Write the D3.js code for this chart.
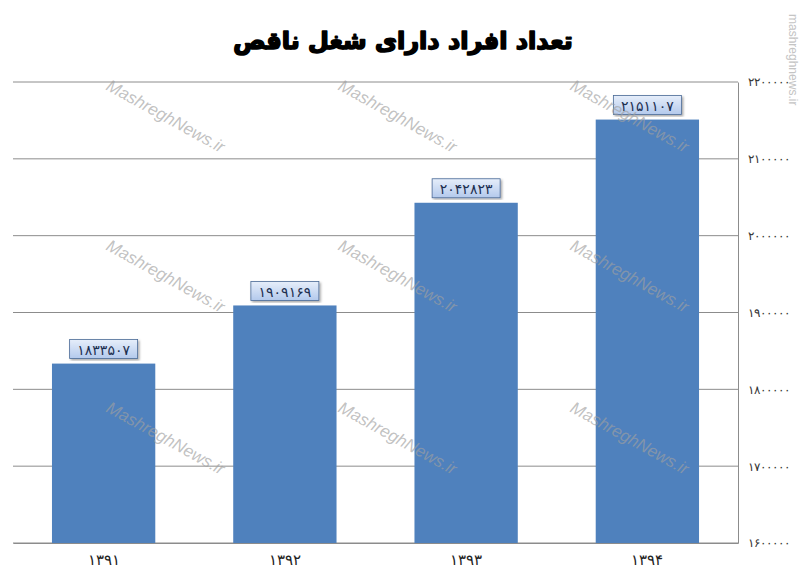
<!DOCTYPE html>
<html>
<head>
<meta charset="utf-8">
<script src="https://cdn.jsdelivr.net/npm/d3@7"></script>
<style>
  body { margin: 0; background: #fff; }
  svg { display: block; }
</style>
</head>
<body>
<div id="container"></div>
<script>
const years = ["1391", "1392", "1393", "1394"];
const counts = [1833507, 1909169, 2042823, 2151107];
const yTicks = [1600000, 1700000, 1800000, 1900000, 2000000, 2100000, 2200000];
const title = "تعداد افراد دارای شغل ناقص";
const watermark = "MashreghNews.ir";

// persian digits
function fa(n) {
    return String(n).replace(/\d/g, d => "۰۱۲۳۴۵۶۷۸۹"[d]);
}

function main() {
    const width = 804;
    const height = 580;
    const marginTop = 82;
    const marginRight = 66;
    const marginBottom = 37;
    const marginLeft = 13;

    const svg = d3.create("svg")
        .attr("width", width)
        .attr("height", height)
        .style("font-family", "DejaVu Sans, sans-serif");

    const x = d3.scaleBand()
        .domain(years)
        .range([marginLeft, width - marginRight])
        .paddingInner(0.43)
        .paddingOuter(0.215);

    const y = d3.scaleLinear()
        .domain([1600000, 2200000])
        .range([height - marginBottom, marginTop]);

    // gridlines
    svg.append("g")
        .selectAll("line")
        .data(yTicks)
        .join("line")
        .attr("x1", marginLeft)
        .attr("x2", width - marginRight)
        .attr("y1", d => y(d))
        .attr("y2", d => y(d))
        .attr("stroke", "#8c8c8c")
        .attr("stroke-width", 1);

    // bars
    svg.append("g")
        .attr("fill", "#4f81bd")
        .selectAll("rect")
        .data(counts)
        .join("rect")
        .attr("x", (d, i) => x(years[i]))
        .attr("y", d => y(d))
        .attr("width", x.bandwidth())
        .attr("height", d => y(1600000) - y(d));

    // right axis
    const yAxis = svg.append("g")
        .attr("transform", `translate(${width - marginRight},0)`)
        .call(d3.axisRight(y).tickValues(yTicks).tickSize(0).tickPadding(10).tickFormat(fa));
    yAxis.select(".domain").attr("stroke", "#8c8c8c");
    yAxis.selectAll("text")
        .attr("fill", "#333")
        .style("font-size", "12px")
        .style("letter-spacing", "2px");

    // bottom axis
    const xAxis = svg.append("g")
        .attr("transform", `translate(0,${height - marginBottom})`)
        .call(d3.axisBottom(x).tickSize(0).tickPadding(11).tickFormat(fa));
    xAxis.select(".domain").attr("stroke", "#8c8c8c");
    xAxis.selectAll("text")
        .attr("fill", "#222")
        .style("font-size", "15px")
        .style("letter-spacing", "2px");

    // value labels
    const defs = svg.append("defs");
    const grad = defs.append("linearGradient")
        .attr("id", "lbl")
        .attr("x1", 0).attr("y1", 0).attr("x2", 0).attr("y2", 1);
    grad.append("stop").attr("offset", "0%").attr("stop-color", "#e6eefa");
    grad.append("stop").attr("offset", "100%").attr("stop-color", "#b3c9ec");
    const shadow = defs.append("filter").attr("id", "sh");
    shadow.append("feDropShadow")
        .attr("dx", 1.5).attr("dy", 1.5).attr("stdDeviation", 1)
        .attr("flood-color", "#000").attr("flood-opacity", 0.35);

    const boxW = 68, boxH = 19;
    const labels = svg.append("g")
        .selectAll("g")
        .data(counts)
        .join("g")
        .attr("transform", (d, i) =>
            `translate(${x(years[i]) + x.bandwidth() / 2},${y(d) - 5 - boxH / 2})`);
    labels.append("rect")
        .attr("x", -boxW / 2)
        .attr("y", -boxH / 2)
        .attr("width", boxW)
        .attr("height", boxH)
        .attr("fill", "url(#lbl)")
        .attr("stroke", "#4a6a96")
        .attr("stroke-width", 0.8)
        .attr("filter", "url(#sh)");
    labels.append("text")
        .attr("text-anchor", "middle")
        .attr("dy", "0.4em")
        .attr("fill", "#1c2f50")
        .style("font-size", "14px")
        .style("letter-spacing", "1px")
        .text(d => fa(d));

    // watermarks on top
    const wm = svg.append("g")
        .attr("fill", "#a0a0a0")
        .attr("fill-opacity", 0.65)
        .style("font-size", "17px")
        .style("font-style", "italic")
        .style("font-family", "Liberation Sans, Arial, sans-serif");
    [108, 340, 572].forEach(cx => {
        [84, 244, 406].forEach(cy => {
            wm.append("text")
                .attr("transform", `translate(${cx},${cy}) rotate(29)`)
                .attr("dy", "0.35em")
                .text(watermark);
        });
    });

    // title
    svg.append("text")
        .attr("x", 403)
        .attr("y", 49)
        .attr("text-anchor", "middle")
        .attr("fill", "#000")
        .style("font-size", "24px")
        .style("font-weight", "bold")
        .style("stroke", "#000")
        .style("stroke-width", "1.6px")
        .style("stroke-linejoin", "round")
        .text(title);

    // side watermark
    svg.append("text")
        .attr("transform", "translate(789,14) rotate(90)")
        .attr("fill", "#c4c4c4")
        .style("font-size", "12px")
        .style("font-family", "Liberation Sans, Arial, sans-serif")
        .text("mashreghnews.ir");

    document.getElementById("container").append(svg.node());
}

main();
</script>
</body>
</html>
